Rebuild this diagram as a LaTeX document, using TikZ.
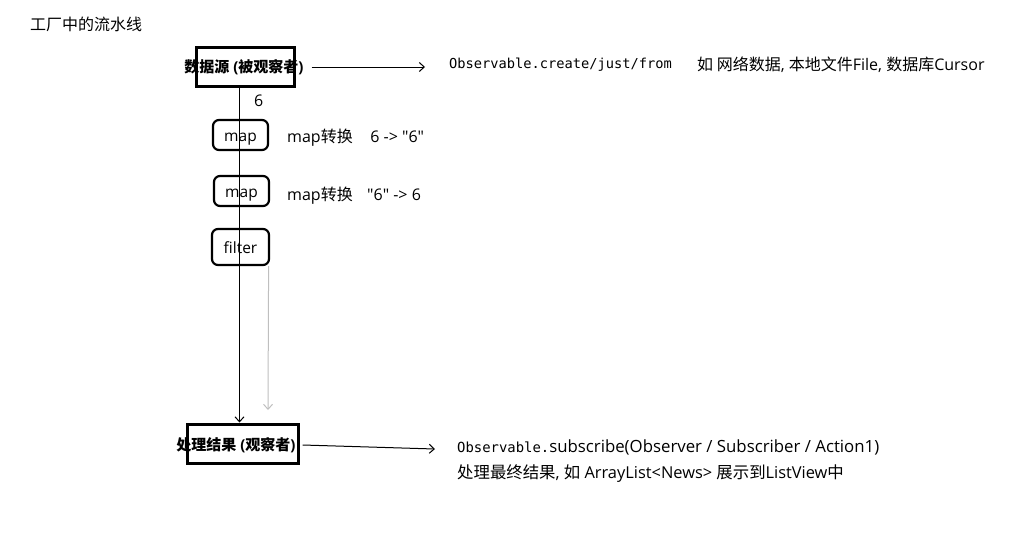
\documentclass[tikz,border=0pt]{standalone}
\usepackage{fontspec}
\setmainfont{Open Sans}[Ligatures=TeXOff]
\newfontfamily\cjk{Noto Sans CJK SC}[Ligatures=TeXOff]
\setmonofont{DejaVu Sans Mono}
\usetikzlibrary{arrows.meta,positioning}

\begin{document}
\begin{tikzpicture}[x=1pt,y=-1pt,
    txt/.style={inner sep=0pt,anchor=west,font=\fontsize{16}{18}\selectfont},
    bigbox/.style={draw,line width=3pt,minimum width=98pt,minimum height=39pt,inner sep=0pt},
    boldtxt/.style={inner sep=0pt,font=\bfseries\fontsize{15}{17}\selectfont},
    opbox/.style={draw,line width=2.2pt,rounded corners=6pt,minimum width=55pt,minimum height=30pt,inner sep=0pt,text height=14pt,text depth=1pt,font=\fontsize{15.5}{17}\selectfont},
    flow/.style={-{Straight Barb[length=5pt,width=9pt]},line width=1pt}]
\useasboundingbox (0,0) rectangle (1017,544);
\node[txt,font=\cjk\fontsize{16}{18}\selectfont] (title) at (30,24) {工厂中的流水线};
% source and sink
\node[bigbox] (src) at (245,66.5) {};
\node[boldtxt] (srctxt) at (244,67) {{\cjk 数据源} ({\cjk 被观察者})};
\node[bigbox,minimum width=111pt] (sink) at (242.5,443.5) {};
\node[boldtxt] (sinktxt) at (236,445) {{\cjk 处理结果} ({\cjk 观察者})};
% operators
\node[txt] (six) at (254,101) {6};
\node[opbox] (map1) at (240.5,135) {map};
\node[opbox] (map2) at (241.5,191) {map};
\node[opbox,minimum width=57pt,minimum height=36pt] (filter) at (240.5,247) {filter};
\node[txt] (map1txt) at (287,138) {map{\cjk 转换}\hspace{1.1em}6 -> "6"};
\node[txt] (map2txt) at (287,196) {map{\cjk 转换}\hspace{0.9em}"6" -> 6};
% descriptions
\node[txt,font=\ttfamily\fontsize{13.7}{16}\selectfont] (create) at (449,65) {Observable.create/just/from};
\node[txt] (srcdesc) at (697,65) {{\cjk 如 网络数据}, {\cjk 本地文件}File, {\cjk 数据库}Cursor};
\node[txt,font=\fontsize{16.8}{18}\selectfont] (subscribe) at (457,447) {{\ttfamily\fontsize{13.9}{16}\selectfont Observable.}subscribe(Observer / Subscriber / Action1)};
\node[txt,font=\fontsize{16.4}{18}\selectfont] (sinkdesc) at (457,474) {{\cjk 处理最终结果}, {\cjk 如} ArrayList<News> {\cjk 展示到}ListView{\cjk 中}};
% connectors
\coordinate (srcend) at (425,67);
\coordinate (sinkend) at (435,449);
\coordinate (grayend) at (268,410);
\draw[flow] ([xshift=8pt]srctxt.east) -- (srcend);
\draw[flow] ([xshift=7pt]sinktxt.east) -- (sinkend);
\draw[flow] ([xshift=-5.5pt]src.south) -- ([xshift=-3pt]sink.north);
\draw[flow,black!25] ([xshift=-1.5pt]filter.south east) -- (grayend);
\end{tikzpicture}
\end{document}
